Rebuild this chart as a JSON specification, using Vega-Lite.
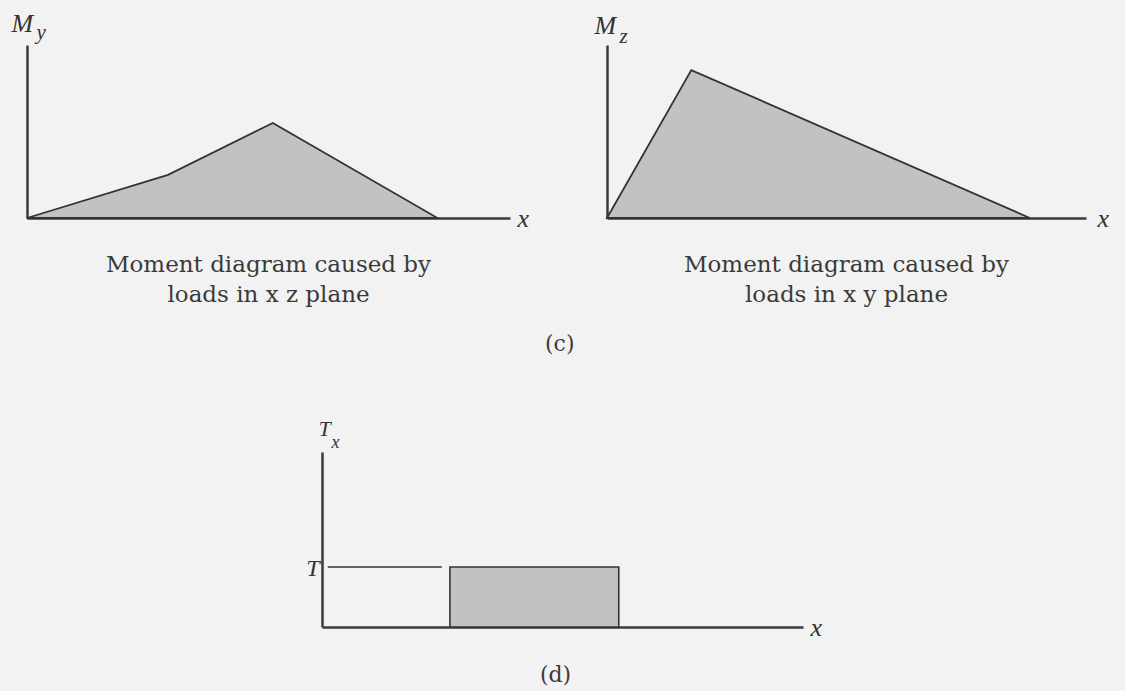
{
  "$schema": "https://vega.github.io/schema/vega-lite/v6.json",
  "background": "#f2f2f2",
  "padding": {"left": 11, "top": 10, "right": 16, "bottom": 6},
  "config": {
    "view": {"stroke": null},
    "axis": {
      "domainColor": "#3a3a3a",
      "domainWidth": 2.5,
      "ticks": false,
      "labels": false,
      "grid": false,
      "titleFont": "Liberation Serif",
      "titleFontStyle": "italic",
      "titleFontWeight": "normal",
      "titleColor": "#333333",
      "titleAngle": 0,
      "titleAlign": "left",
      "titlePadding": 0,
      "labelFont": "Liberation Serif",
      "labelFontStyle": "italic",
      "labelColor": "#333333"
    },
    "title": {
      "font": "DejaVu Serif",
      "fontWeight": "normal",
      "color": "#3a3a3a"
    }
  },
  "datasets": {
    "momentXZ": [
      {"x": 0, "m": 0},
      {"x": 2.92, "m": 2.49},
      {"x": 5.09, "m": 5.49},
      {"x": 8.5, "m": 0}
    ],
    "momentXY": [
      {"x": 0, "m": 0},
      {"x": 1.76, "m": 8.55},
      {"x": 8.83, "m": 0}
    ],
    "torqueSpan": [{"from": 2.66, "to": 6.17, "t": 1}],
    "torqueLevel": [{"from": 0.12, "to": 2.49, "t": 1}]
  },
  "bounds": "flush",
  "spacing": 407,
  "vconcat": [
    {
      "bounds": "flush",
      "spacing": 97,
      "title": {
        "text": "(c)",
        "orient": "bottom",
        "anchor": "middle",
        "frame": "bounds",
        "offset": 27,
        "fontSize": 22
      },
      "hconcat": [
        {
          "width": 483,
          "height": 173,
          "data": {"name": "momentXZ"},
          "mark": {"type": "area", "fill": "#c2c2c2", "stroke": "#333333", "strokeWidth": 1.8, "opacity": 1},
          "encoding": {
            "x": {
              "field": "x",
              "type": "quantitative",
              "scale": {"domain": [0, 10], "nice": false, "zero": false},
              "axis": {"title": "x", "titleX": 490, "titleY": 0, "titleBaseline": "middle", "titleFontSize": 26}
            },
            "y": {
              "field": "m",
              "type": "quantitative",
              "scale": {"domain": [0, 10], "nice": false},
              "axis": {
                "title": "M",
                "titleX": -16,
                "titleY": -35,
                "titleBaseline": "top",
                "titleFontSize": 26,
                "values": [10],
                "labels": true,
                "labelExpr": "'y'",
                "labelAlign": "left",
                "labelBaseline": "alphabetic",
                "labelPadding": -9,
                "labelOffset": -7,
                "labelFontSize": 21
              }
            }
          },
          "title": {
            "text": ["Moment diagram caused by", "loads in x z plane"],
            "orient": "bottom",
            "anchor": "middle",
            "frame": "group",
            "offset": 23,
            "fontSize": 23,
            "lineHeight": 30
          }
        },
        {
          "width": 479,
          "height": 173,
          "data": {"name": "momentXY"},
          "mark": {"type": "area", "fill": "#c2c2c2", "stroke": "#333333", "strokeWidth": 1.8, "opacity": 1},
          "encoding": {
            "x": {
              "field": "x",
              "type": "quantitative",
              "scale": {"domain": [0, 10], "nice": false, "zero": false},
              "axis": {"title": "x", "titleX": 490, "titleY": 0, "titleBaseline": "middle", "titleFontSize": 26}
            },
            "y": {
              "field": "m",
              "type": "quantitative",
              "scale": {"domain": [0, 10], "nice": false},
              "axis": {
                "title": "M",
                "titleX": -13,
                "titleY": -33,
                "titleBaseline": "top",
                "titleFontSize": 26,
                "values": [10],
                "labels": true,
                "labelExpr": "'z'",
                "labelAlign": "left",
                "labelBaseline": "alphabetic",
                "labelPadding": -12,
                "labelOffset": -3,
                "labelFontSize": 21
              }
            }
          },
          "title": {
            "text": ["Moment diagram caused by", "loads in x y plane"],
            "orient": "bottom",
            "anchor": "middle",
            "frame": "group",
            "offset": 23,
            "fontSize": 23,
            "lineHeight": 30
          }
        }
      ]
    },
    {
      "bounds": "flush",
      "spacing": 0,
      "hconcat": [
        {
          "width": 295,
          "height": 175,
          "data": {"values": []},
          "mark": "point",
          "encoding": {}
        },
        {
          "width": 481,
          "height": 175,
          "title": {
            "text": "(d)",
            "orient": "bottom",
            "anchor": "middle",
            "frame": "group",
            "offset": 25,
            "dx": -7,
            "fontSize": 22
          },
          "encoding": {
            "x": {
              "field": "from",
              "type": "quantitative",
              "scale": {"domain": [0, 10], "nice": false, "zero": false},
              "axis": {"title": "x", "titleX": 488, "titleY": 0, "titleBaseline": "middle", "titleFontSize": 26}
            },
            "x2": {"field": "to"},
            "y": {
              "field": "t",
              "type": "quantitative",
              "scale": {"domain": [0, 2.92], "nice": false},
              "axis": {
                "title": "T",
                "titleX": -4,
                "titleY": -34,
                "titleBaseline": "top",
                "titleFontSize": 22,
                "values": [1, 2.92],
                "labels": true,
                "labelExpr": "datum.value > 2 ? 'x' : 'T'",
                "labelAlign": {"condition": {"test": "datum.value > 2", "value": "left"}, "value": "right"},
                "labelBaseline": {"condition": {"test": "datum.value > 2", "value": "alphabetic"}, "value": "middle"},
                "labelPadding": {"condition": {"test": "datum.value > 2", "value": -9}, "value": 3},
                "labelOffset": {"condition": {"test": "datum.value > 2", "value": -5}, "value": 1},
                "labelFontSize": {"condition": {"test": "datum.value > 2", "value": 18}, "value": 24}
              }
            }
          },
          "layer": [
            {
              "data": {"name": "torqueLevel"},
              "mark": {"type": "rule", "color": "#333333", "strokeWidth": 1.6}
            },
            {
              "data": {"name": "torqueSpan"},
              "mark": {"type": "rect", "fill": "#c2c2c2", "stroke": "#333333", "strokeWidth": 1.6},
              "encoding": {
                "y2": {"datum": 0}
              }
            }
          ]
        }
      ]
    }
  ]
}
